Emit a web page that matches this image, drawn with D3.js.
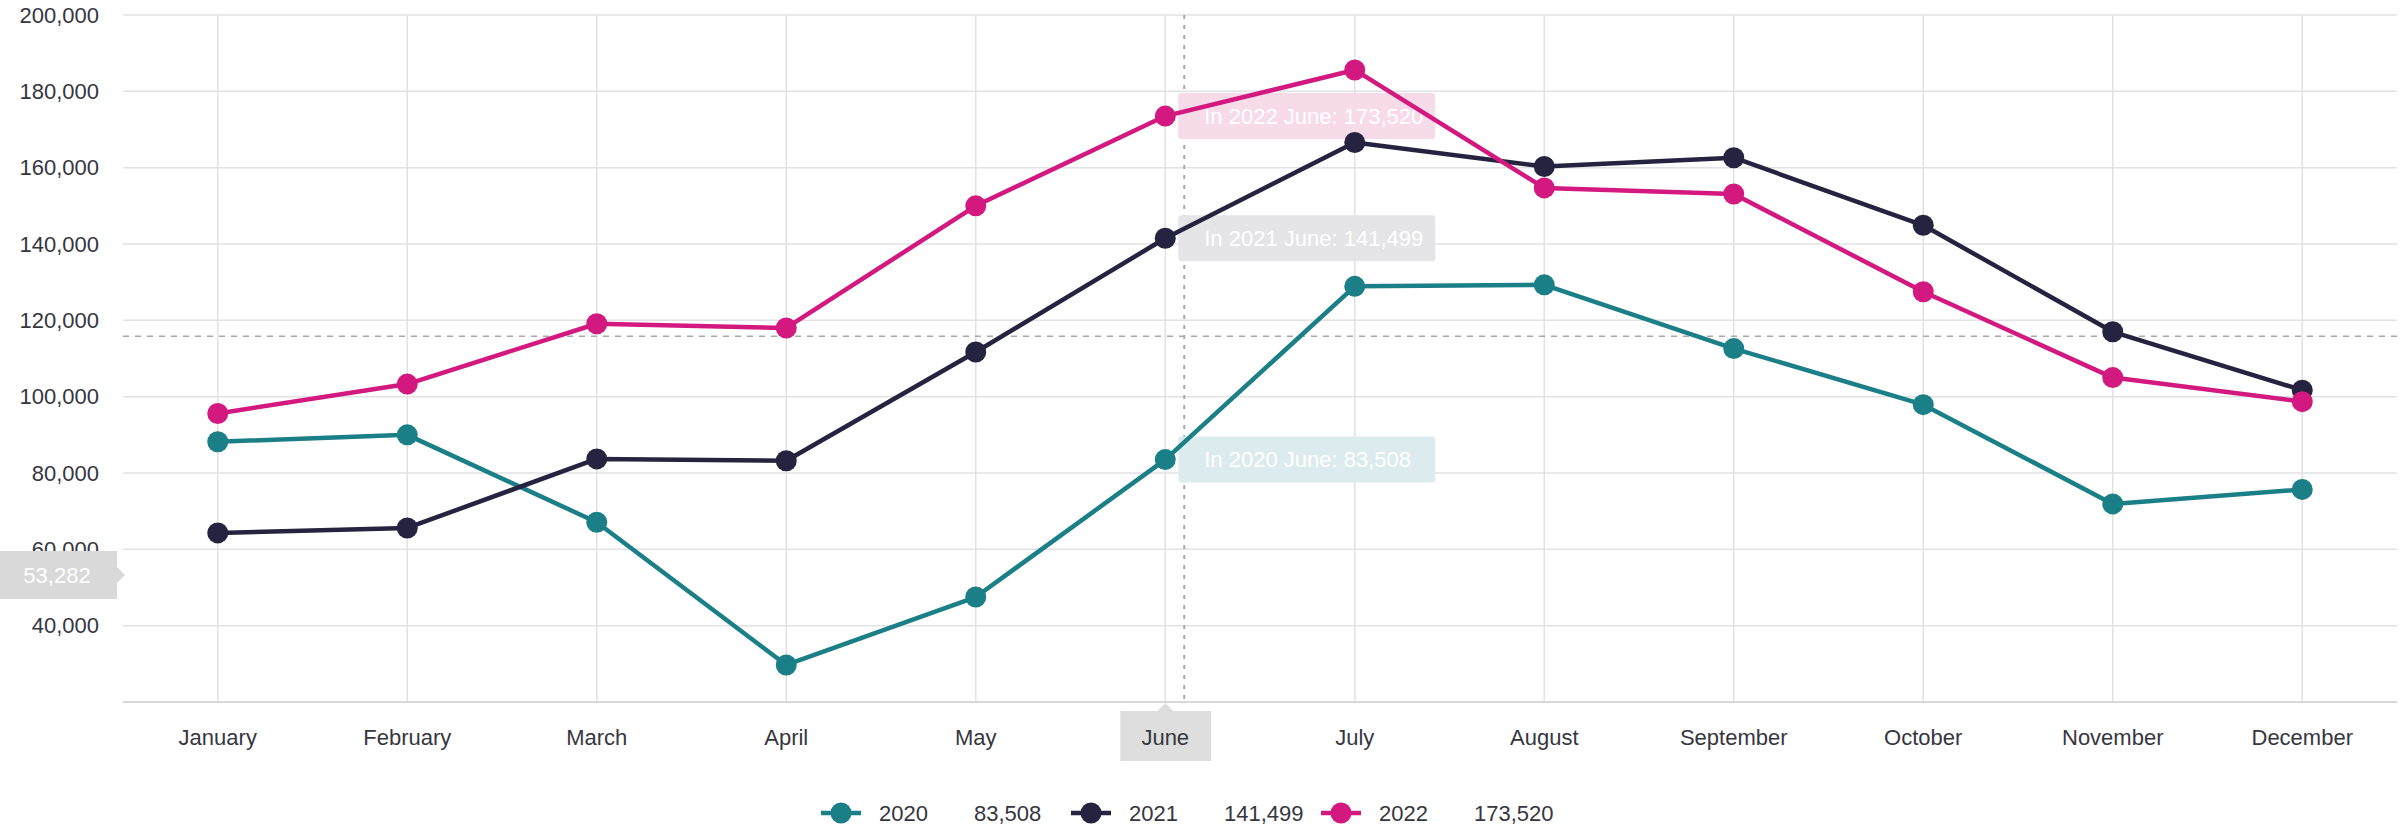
<!DOCTYPE html>
<meta charset="utf-8">
<title>Monthly values 2020-2022</title>
<style>
    body { margin: 0; background: #fff; }
    svg { display: block; font-family: "Liberation Sans", Arial, sans-serif; }
    .grid line { stroke: #e2e2e4; stroke-width: 1.5; }
    .label { fill: #36363f; font-size: 22px; }
    .series path { fill: none; stroke-width: 4.5; stroke-linejoin: round; }
</style>
<svg width="2407" height="827"></svg>
<script src="https://d3js.org/d3.v7.min.js"></script>
<script>

    // data
    var months = ["January", "February", "March", "April", "May", "June",
        "July", "August", "September", "October", "November", "December"];
    var years = ["2020", "2021", "2022"];
    var values2020 = [88200, 90000, 67100, 29700, 47500, 83508, 128900, 129300, 112600, 97900, 71900, 75700];
    var values2021 = [64300, 65600, 83700, 83200, 111700, 141499, 166600, 160300, 162600, 144900, 117000, 101700];
    var values2022 = [95600, 103300, 119100, 118000, 150000, 173520, 185600, 154700, 153100, 127500, 105000, 98700];
    var yTicks = [40000, 60000, 80000, 100000, 120000, 140000, 160000, 180000, 200000];
    var colors = ["#1b7f87", "#25233f", "#d3197f"];
    var tipFills = ["#dcecee", "#e5e5e8", "#f8dbe9"];

    // hover state shown in the picture
    var hoverMonth = "June";
    var hoverLineValue = 115800;
    var hoverAxisValue = 53282;

    var series = years.map(function(yr, i) {
        return { year: yr, values: [values2020, values2021, values2022][i], color: colors[i], tip: tipFills[i] };
    });

    //begin: layout conf.
    var svg = d3.select("svg"),
        plotLeft = 123, plotRight = 2397, plotTop = 15, plotBottom = 702;
    //end: layout conf.

    var x = d3.scalePoint().domain(months).range([plotLeft, plotRight]).padding(0.5);
    var y = d3.scaleLinear().domain([20000, 200000]).range([plotBottom, plotTop]);
    var fmt = d3.format(",");
    var hi = months.indexOf(hoverMonth);

    // grid
    var grid = svg.append("g").attr("class", "grid");
    grid.selectAll("line.h").data(yTicks).enter().append("line").attr("class", "h")
        .attr("x1", plotLeft).attr("x2", plotRight)
        .attr("y1", function(d) { return y(d); }).attr("y2", function(d) { return y(d); });
    grid.selectAll("line.v").data(months).enter().append("line").attr("class", "v")
        .attr("x1", function(d) { return x(d); }).attr("x2", function(d) { return x(d); })
        .attr("y1", plotTop).attr("y2", plotBottom);
    svg.append("line")
        .attr("x1", plotLeft).attr("x2", plotRight).attr("y1", y(20000)).attr("y2", y(20000))
        .attr("stroke", "#d8d8da").attr("stroke-width", 2);

    // y axis labels
    svg.append("g").selectAll("text").data(yTicks).enter().append("text")
        .attr("class", "label")
        .attr("x", 99).attr("y", function(d) { return y(d); })
        .attr("dy", "0.35em").attr("text-anchor", "end")
        .text(fmt);

    // x axis labels
    svg.append("g").selectAll("text").data(months).enter().append("text")
        .attr("class", "label")
        .attr("x", function(d) { return x(d); }).attr("y", 737)
        .attr("dy", "0.35em").attr("text-anchor", "middle")
        .text(function(d) { return d; });

    // crosshair
    svg.append("line")
        .attr("x1", plotLeft).attr("x2", plotRight)
        .attr("y1", y(hoverLineValue)).attr("y2", y(hoverLineValue))
        .attr("stroke", "#a9a9ad").attr("stroke-width", 1.5).attr("stroke-dasharray", "6,6");
    svg.append("line")
        .attr("x1", x(hoverMonth) + 19).attr("x2", x(hoverMonth) + 19)
        .attr("y1", plotTop).attr("y2", plotBottom)
        .attr("stroke", "#a9a9ad").attr("stroke-width", 2).attr("stroke-dasharray", "4,6");

    // tooltips for the hovered month (sit under the lines)
    var tips = svg.selectAll("g.tip").data(series).enter().append("g").attr("class", "tip")
        .attr("transform", function(d) { return "translate(" + (x(hoverMonth) + 13) + "," + y(d.values[hi]) + ")"; });
    tips.append("rect")
        .attr("x", 0).attr("y", -23).attr("width", 257).attr("height", 46).attr("rx", 3)
        .attr("fill", function(d) { return d.tip; });
    tips.append("text")
        .attr("x", 26).attr("dy", "0.35em")
        .attr("fill", "#fff").attr("font-size", 22)
        .text(function(d) { return "In " + d.year + " " + hoverMonth + ": " + fmt(d.values[hi]); });

    // lines and points
    var line = d3.line()
        .x(function(d, i) { return x(months[i]); })
        .y(function(d) { return y(d); });

    var g = svg.selectAll("g.series").data(series).enter().append("g").attr("class", "series");
    g.append("path")
        .attr("stroke", function(d) { return d.color; })
        .attr("d", function(d) { return line(d.values); });
    g.selectAll("circle").data(function(d) { return d.values.map(function(v) { return { v: v, c: d.color }; }); })
        .enter().append("circle")
        .attr("cx", function(d, i) { return x(months[i]); })
        .attr("cy", function(d) { return y(d.v); })
        .attr("r", 10.5)
        .attr("fill", function(d) { return d.c; });

    // x crosshair label
    var xl = svg.append("g").attr("transform", "translate(" + x(hoverMonth) + ",0)");
    xl.append("path").attr("d", "M-45,711L-8,711L0,703L8,711L46,711L46,761L-45,761Z").attr("fill", "#dedede");
    xl.append("text").attr("class", "label").attr("y", 737).attr("dy", "0.35em")
        .attr("text-anchor", "middle").text(hoverMonth);

    // y crosshair label
    var yl = svg.append("g").attr("transform", "translate(0," + y(hoverAxisValue) + ")");
    yl.append("path").attr("d", "M0,-24L117,-24L117,-8L125,0L117,8L117,24L0,24Z").attr("fill", "#d9d9d9");
    yl.append("text").attr("x", 57).attr("dy", "0.35em").attr("text-anchor", "middle")
        .attr("fill", "#fff").attr("font-size", 22).text(fmt(hoverAxisValue));

    // legend
    var legend = svg.selectAll("g.legend").data(series).enter().append("g").attr("class", "legend")
        .attr("transform", function(d, i) { return "translate(" + (821 + i * 250) + ",813)"; });
    legend.append("line").attr("x1", 0).attr("x2", 40)
        .attr("stroke", function(d) { return d.color; }).attr("stroke-width", 4.5);
    legend.append("circle").attr("cx", 20).attr("r", 10.5).attr("fill", function(d) { return d.color; });
    legend.append("text").attr("class", "label").attr("x", 58).attr("dy", "0.35em")
        .text(function(d) { return d.year; });
    legend.append("text").attr("class", "label").attr("x", 153).attr("dy", "0.35em")
        .text(function(d) { return fmt(d.values[hi]); });

</script>
